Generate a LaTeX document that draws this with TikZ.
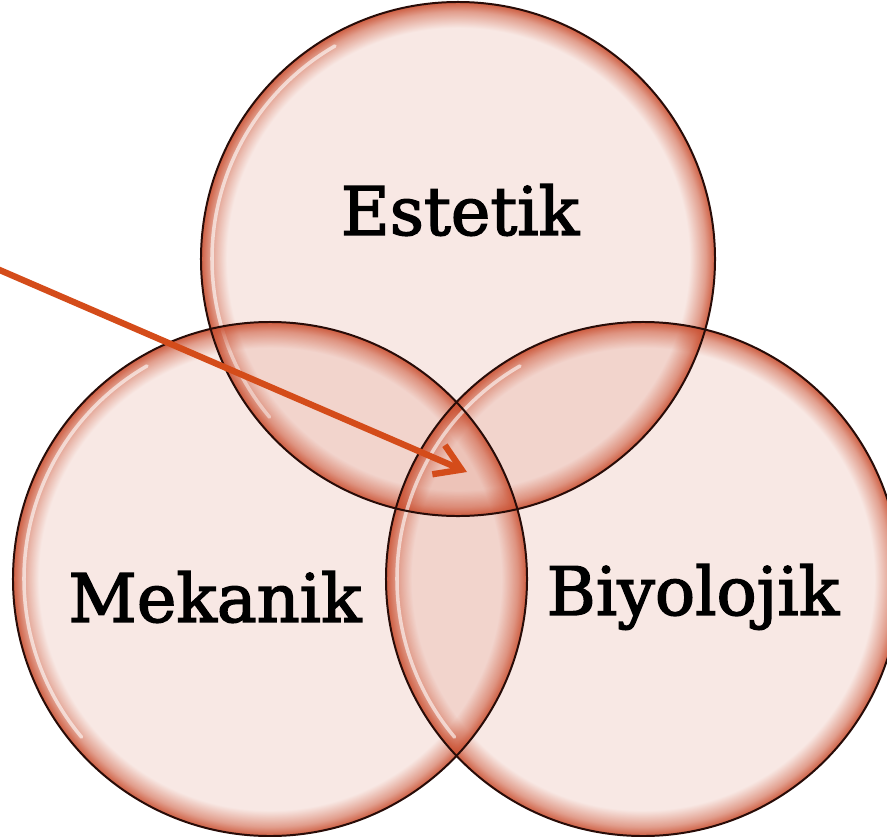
\documentclass[tikz,border=0pt]{standalone}
\usepackage{fontspec}
\newfontfamily\slabfont[FakeBold=2.2]{DejaVu Serif}
\usetikzlibrary{arrows.meta,fadings}

\definecolor{glow}{RGB}{201,78,47}
\definecolor{edge}{RGB}{40,12,8}
\definecolor{pointer}{RGB}{212,76,26}

\pgfdeclareradialshading{rimmask}{\pgfpoint{0bp}{0bp}}{%
  color(0bp)=(pgftransparent!87); color(22.4bp)=(pgftransparent!87);
  color(24bp)=(pgftransparent!45); color(25bp)=(pgftransparent!5);
  color(50bp)=(pgftransparent!5)}
\pgfdeclarefading{rimfade}{\pgfuseshading{rimmask}}

\begin{document}
\begin{tikzpicture}[
  x=0.03cm, y=-0.03cm,
  ring/.style={circle, draw=edge, line width=1.7pt, minimum size=15.42cm, inner sep=0pt},
  word/.style={font=\slabfont\fontsize{57}{62}\selectfont, text=black, inner sep=0pt},
  shine/.style={white, line width=3pt, line cap=round, opacity=0.6},
  >=Stealth
]
  \clip (0,0) rectangle (887,837);

  % the three circles
  \coordinate (ce) at (458,259);
  \coordinate (cm) at (270,579);
  \coordinate (cb) at (643,579);

  \foreach \c in {ce,cm,cb} {
    \fill[glow, path fading=rimfade] (\c) circle[radius=7.71cm];
    \draw[shine] (\c) ++(120:7.38cm) arc[start angle=120, end angle=220, radius=7.38cm];
  }

  \node[ring] (est) at (ce) {};
  \node[ring] (mek) at (cm) {};
  \node[ring] (bio) at (cb) {};

  % labels
  \node[word] (lest) at (460,210) {Estetik};
  \node[word] (lmek) at (215,597) {Mekanik};
  \node[word] (lbio) at (693,597) {Biyolojik};

  % pointer into the middle
  \coordinate (tail) at (-5,268);
  \coordinate (tip)  at (467,472);
  \draw[pointer, line width=0.19cm, -{Straight Barb[length=0.75cm, width=0.95cm]}] (tail) -- (tip);
\end{tikzpicture}
\end{document}
